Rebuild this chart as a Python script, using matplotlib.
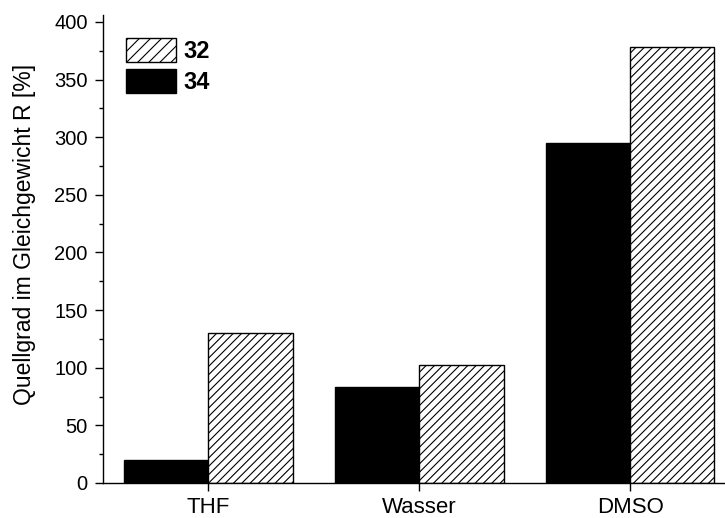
import matplotlib
matplotlib.use("Agg")
import matplotlib.pyplot as plt
import numpy as np
from matplotlib.patches import Patch
from matplotlib.ticker import MultipleLocator

plt.rcParams['font.family'] = ['Liberation Sans', 'DejaVu Sans']
plt.rcParams['hatch.linewidth'] = 0.8

solvents = ["THF", "Wasser", "DMSO"]
r_34 = [20, 83, 295]
r_32 = [130, 102, 378]
series_labels = ["32", "34"]

fig = plt.figure(figsize=(7.25, 5.18), dpi=100)
ax = fig.add_axes([0.142, 0.0676, 0.858, 0.9035])

x = np.arange(len(solvents))
w = 0.4
ax.bar(x - w / 2, r_34, width=w, color="black", edgecolor="black", linewidth=1.0)
ax.bar(x + w / 2, r_32, width=w, color="white", edgecolor="black", linewidth=1.0, hatch="////")

ax.set_xlim(-0.5, 2.45)
ax.set_ylim(0, 406)
ax.set_xticks(x)
ax.set_xticklabels(solvents, fontsize=16)
ax.yaxis.set_major_locator(MultipleLocator(50))
ax.yaxis.set_minor_locator(MultipleLocator(25))
ax.tick_params(axis='y', which='major', direction='out', length=6, width=1, labelsize=14.5, pad=5)
ax.tick_params(axis='y', which='minor', direction='out', length=3, width=1)
ax.tick_params(axis='x', which='major', direction='out', length=6, width=1, pad=4)
ax.tick_params(axis='x', which='minor', bottom=False)

for side in ("top", "right"):
    ax.spines[side].set_visible(False)
for side in ("left", "bottom"):
    ax.spines[side].set_linewidth(1.0)

ax.set_ylabel("Quellgrad im Gleichgewicht R [%]", fontsize=16.5)
ax.yaxis.set_label_coords(-0.108, 0.53)

handles = [
    Patch(facecolor="white", edgecolor="black", hatch="///", linewidth=1.0),
    Patch(facecolor="black", edgecolor="black", linewidth=1.0),
]
leg = ax.legend(handles, series_labels, loc="upper left", bbox_to_anchor=(0.037, 0.951),
                frameon=False, borderpad=0, borderaxespad=0, handlelength=2.12,
                handleheight=1.2, handletextpad=0.3, labelspacing=0.25,
                prop={"weight": "bold", "size": 17})

fig.savefig("out.png", dpi=100)
